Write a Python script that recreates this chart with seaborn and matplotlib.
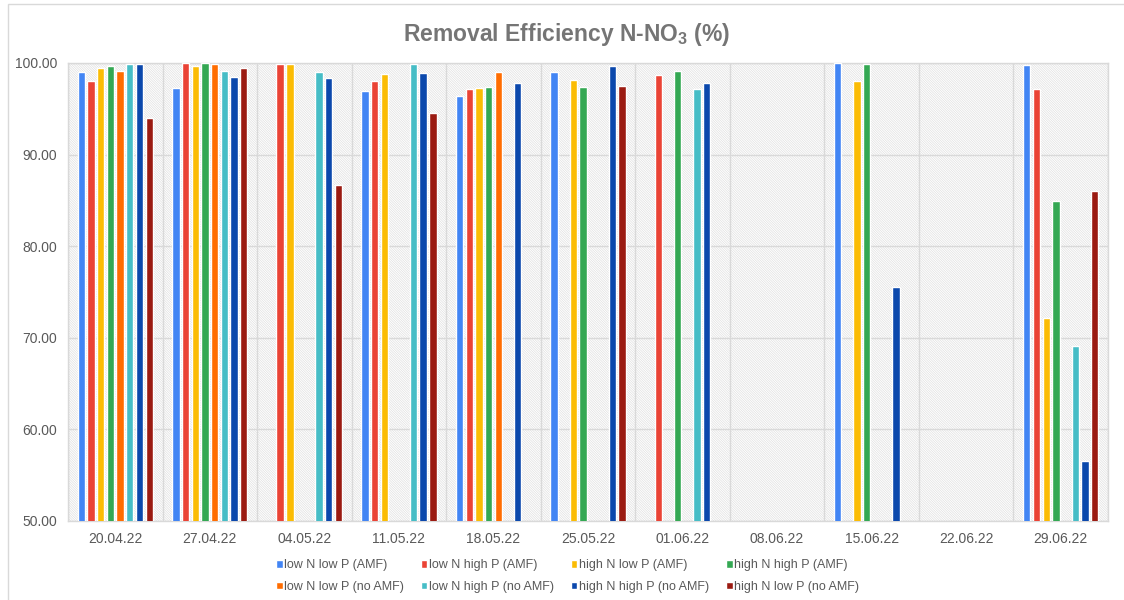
import numpy as np
import pandas as pd
import matplotlib
matplotlib.use('Agg')
import matplotlib.pyplot as plt
from matplotlib.patches import Rectangle
from matplotlib.ticker import FormatStrFormatter, FixedLocator
import seaborn as sns

# -----------------------------------------------------------
# Data, NaN = no bar
# -----------------------------------------------------------
dates = ['20.04.22', '27.04.22', '04.05.22', '11.05.22', '18.05.22', '25.05.22',
         '01.06.22', '08.06.22', '15.06.22', '22.06.22', '29.06.22']

series = ['low N low P (AMF)', 'low N high P (AMF)', 'high N low P (AMF)', 'high N high P (AMF)',
          'low N low P (no AMF)', 'low N high P (no AMF)', 'high N high P (no AMF)', 'high N low P (no AMF)']

nan = np.nan
lowN_lowP_amf     = [99.0, 97.3, nan, 96.9, 96.4, 99.05, nan, nan, 100.0, nan, 99.8]
lowN_highP_amf    = [98.0, 100.0, 99.9, 98.0, 97.2, nan, 98.7, nan, nan, nan, 97.2]
highN_lowP_amf    = [99.45, 99.7, 99.9, 98.8, 97.3, 98.1, nan, nan, 98.0, nan, 72.2]
highN_highP_amf   = [99.7, 100.0, nan, nan, 97.4, 97.4, 99.1, nan, 99.9, nan, 84.95]
lowN_lowP_noamf   = [99.1, 99.9, nan, nan, 99.05, nan, nan, nan, nan, nan, nan]
lowN_highP_noamf  = [99.9, 99.1, 99.0, 99.9, nan, nan, 97.2, nan, nan, nan, 69.1]
highN_highP_noamf = [99.9, 98.5, 98.4, 98.9, 97.8, 99.7, 97.8, nan, 75.5, nan, 56.6]
highN_lowP_noamf  = [93.95, 99.45, 86.7, 94.5, nan, 97.5, nan, nan, nan, nan, 86.0]

values = [lowN_lowP_amf, lowN_highP_amf, highN_lowP_amf, highN_highP_amf,
          lowN_lowP_noamf, lowN_highP_noamf, highN_highP_noamf, highN_lowP_noamf]

colors = ['#4285F4', '#EA4335', '#FBBC04', '#34A853',
          '#FF6D01', '#46BDC6', '#0B48AC', '#9B1B12']

# long format table for seaborn
rows = []
for s, vals in zip(series, values):
    for d, v in zip(dates, vals):
        rows.append({'Date': d, 'Series': s, 'Value': v})
df = pd.DataFrame(rows)

# -----------------------------------------------------------
# Style
# -----------------------------------------------------------
sns.set_style('white')
plt.rcParams['font.family'] = ['Liberation Sans', 'DejaVu Sans']
plt.rcParams['mathtext.fontset'] = 'custom'
plt.rcParams['mathtext.rm'] = 'Liberation Sans:bold'
plt.rcParams['mathtext.default'] = 'rm'
plt.rcParams['hatch.color'] = '#e0e0e0'
plt.rcParams['hatch.linewidth'] = 0.5

grey_txt = '#595959'
grid_col = '#d9d9d9'

fig = plt.figure(figsize=(11.24, 6), dpi=100)
ax = fig.add_axes([68 / 1124, 79 / 600, 1040 / 1124, 458 / 600])

# hatched plot background
ax.add_patch(Rectangle((0, 0), 1, 1, transform=ax.transAxes, facecolor='white',
                       edgecolor='#e0e0e0', hatch='\\' * 14, linewidth=0, zorder=0))

sns.barplot(data=df, x='Date', y='Value', hue='Series', hue_order=series, order=dates,
            palette=colors, width=0.82, saturation=1, ax=ax, zorder=3, legend=True)

# make bars thinner, keep centres
for p in ax.patches:
    if isinstance(p, Rectangle) and p.get_width() < 0.5 and p.get_height() > 0:
        w = p.get_width()
        nw = w * 0.76
        p.set_x(p.get_x() + (w - nw) / 2)
        p.set_width(nw)

ax.set_ylim(50, 100)
ax.set_xlim(-0.5, len(dates) - 0.5)
ax.set_yticks(np.arange(50, 101, 10))
ax.yaxis.set_major_formatter(FormatStrFormatter('%.2f'))
ax.xaxis.set_minor_locator(FixedLocator(np.arange(-0.5, len(dates), 1.0)))

ax.grid(axis='y', which='major', color=grid_col, linewidth=1, zorder=1)
ax.grid(axis='x', which='minor', color=grid_col, linewidth=1, zorder=1)
ax.set_axisbelow(True)

ax.tick_params(axis='both', which='both', length=0, labelsize=10, labelcolor=grey_txt, pad=8)
ax.tick_params(axis='y', pad=8)
for sp in ax.spines.values():
    sp.set_color(grid_col)
    sp.set_linewidth(1)

ax.set_xlabel('')
ax.set_ylabel('')

ax.set_title('Removal Efficiency N-NO$_3$ (%)', fontsize=16.5, fontweight='bold',
             color='#757575', pad=16, x=0.479)

# legend, filled row by row
handles, labels = ax.get_legend_handles_labels()
ax.legend_.remove()
order = [0, 4, 1, 5, 2, 6, 3, 7]
fig.legend([handles[i] for i in order], [labels[i] for i in order], ncol=4,
           loc='center', bbox_to_anchor=(0.505, 0.04), frameon=False,
           fontsize=9, labelcolor=grey_txt, handlelength=0.55, handleheight=0.55,
           handletextpad=0.15, columnspacing=1.3, labelspacing=0.75)

# outer chart frame (partly cropped like in the reference)
fig.add_artist(Rectangle((8 / 1124, -0.1), 1.2, 1.1 - 4 / 600, transform=fig.transFigure,
                         fill=False, edgecolor='#d9d9d9', linewidth=1))

fig.savefig('out.png', dpi=100)
